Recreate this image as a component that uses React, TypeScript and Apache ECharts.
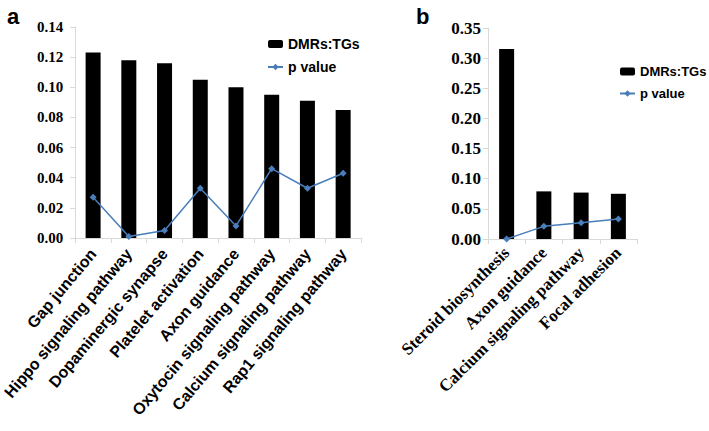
import React, { useEffect, useRef } from "react";
import * as echarts from "echarts";

const catsA = [
  "Gap junction",
  "Hippo signaling pathway",
  "Dopaminergic synapse",
  "Platelet activation",
  "Axon guidance",
  "Oxytocin signaling pathway",
  "Calcium signaling pathway",
  "Rap1 signaling pathway",
];
const ratioA = [0.123, 0.118, 0.116, 0.105, 0.1, 0.095, 0.091, 0.085];
const pA = [0.027, 0.001, 0.005, 0.033, 0.008, 0.046, 0.033, 0.043];

const catsB = [
  "Steroid biosynthesis",
  "Axon guidance",
  "Calcium signaling pathway",
  "Focal adhesion",
];
const ratioB = [0.315, 0.079, 0.077, 0.075];
const pB = [0.0, 0.021, 0.027, 0.033];

const SANS = "Liberation Sans, Arial, sans-serif";
const SERIF = "Liberation Serif, Times New Roman, serif";
const AXIS_COLOR = "#d9d9d9";
const LINE_COLOR = "#4a7ebb";

export default function App() {
  const ref = useRef<HTMLDivElement>(null);
  useEffect(() => {
    document.body.style.margin = "0";
    if (!ref.current) return;
    const chart = echarts.init(ref.current, undefined, { renderer: "svg" });
    const yAxisBase = (max: number, interval: number, fontSize: number, margin: number) => ({
      type: "value",
      min: 0,
      max,
      interval,
      axisLine: { show: true, lineStyle: { color: AXIS_COLOR, width: 1 } },
      axisTick: { show: true, length: 5, lineStyle: { color: AXIS_COLOR } },
      splitLine: { show: false },
      axisLabel: {
        color: "#000",
        fontFamily: SERIF,
        fontWeight: "bold",
        fontSize,
        margin,
        formatter: (v: number) => v.toFixed(2),
      },
    });
    const xAxisBase = (
      data: string[],
      gridIndex: number,
      fontFamily: string,
      fontSize: number,
      rotate: number,
      margin: number
    ) => ({
      type: "category",
      gridIndex,
      data,
      axisLine: { show: true, lineStyle: { color: AXIS_COLOR, width: 1 } },
      axisTick: { show: true, length: 5, lineStyle: { color: AXIS_COLOR } },
      axisLabel: {
        interval: 0,
        rotate,
        color: "#000",
        fontFamily,
        fontWeight: "bold",
        fontSize,
        margin,
      },
    });
    const legendBase = (left: number, top: number, fontSize: number) => ({
      orient: "vertical",
      left,
      top,
      itemWidth: 15,
      itemHeight: 8,
      itemGap: 9,
      textStyle: { color: "#000", fontFamily: SANS, fontWeight: "bold", fontSize },
      data: ["DMRs:TGs", "p value"],
    });
    chart.setOption({
      animation: false,
      backgroundColor: "#fff",
      title: [
        { text: "a", left: 2, top: 0, textStyle: { fontFamily: SANS, fontWeight: "bold", fontSize: 22, color: "#000" } },
        { text: "b", left: 411, top: 0, textStyle: { fontFamily: SANS, fontWeight: "bold", fontSize: 22, color: "#000" } },
      ],
      legend: [legendBase(262, 32, 14), legendBase(614, 60, 13)],
      grid: [
        { left: 67, top: 27, width: 294, height: 211, containLabel: false },
        { left: 488, top: 28, width: 149, height: 211, containLabel: false },
      ],
      xAxis: [xAxisBase(catsA, 0, SANS, 16, 50, 13), xAxisBase(catsB, 1, SERIF, 17, 45, 11)],
      yAxis: [
        { ...yAxisBase(0.14, 0.02, 15, 12), gridIndex: 0 },
        { ...yAxisBase(0.35, 0.05, 17, 7), gridIndex: 1 },
      ],
      series: [
        {
          name: "DMRs:TGs",
          type: "bar",
          xAxisIndex: 0,
          yAxisIndex: 0,
          data: ratioA,
          barWidth: 15,
          itemStyle: { color: "#000" },
        },
        {
          name: "p value",
          type: "line",
          xAxisIndex: 0,
          yAxisIndex: 0,
          data: pA,
          symbol: "diamond",
          symbolSize: 7,
          lineStyle: { color: LINE_COLOR, width: 1.5 },
          itemStyle: { color: LINE_COLOR },
        },
        {
          name: "DMRs:TGs",
          type: "bar",
          xAxisIndex: 1,
          yAxisIndex: 1,
          data: ratioB,
          barWidth: 15,
          itemStyle: { color: "#000" },
        },
        {
          name: "p value",
          type: "line",
          xAxisIndex: 1,
          yAxisIndex: 1,
          data: pB,
          symbol: "diamond",
          symbolSize: 7,
          lineStyle: { color: LINE_COLOR, width: 1.5 },
          itemStyle: { color: LINE_COLOR },
        },
      ],
    });
    return () => chart.dispose();
  }, []);
  return <div ref={ref} style={{ width: 709, height: 431 }} />;
}
